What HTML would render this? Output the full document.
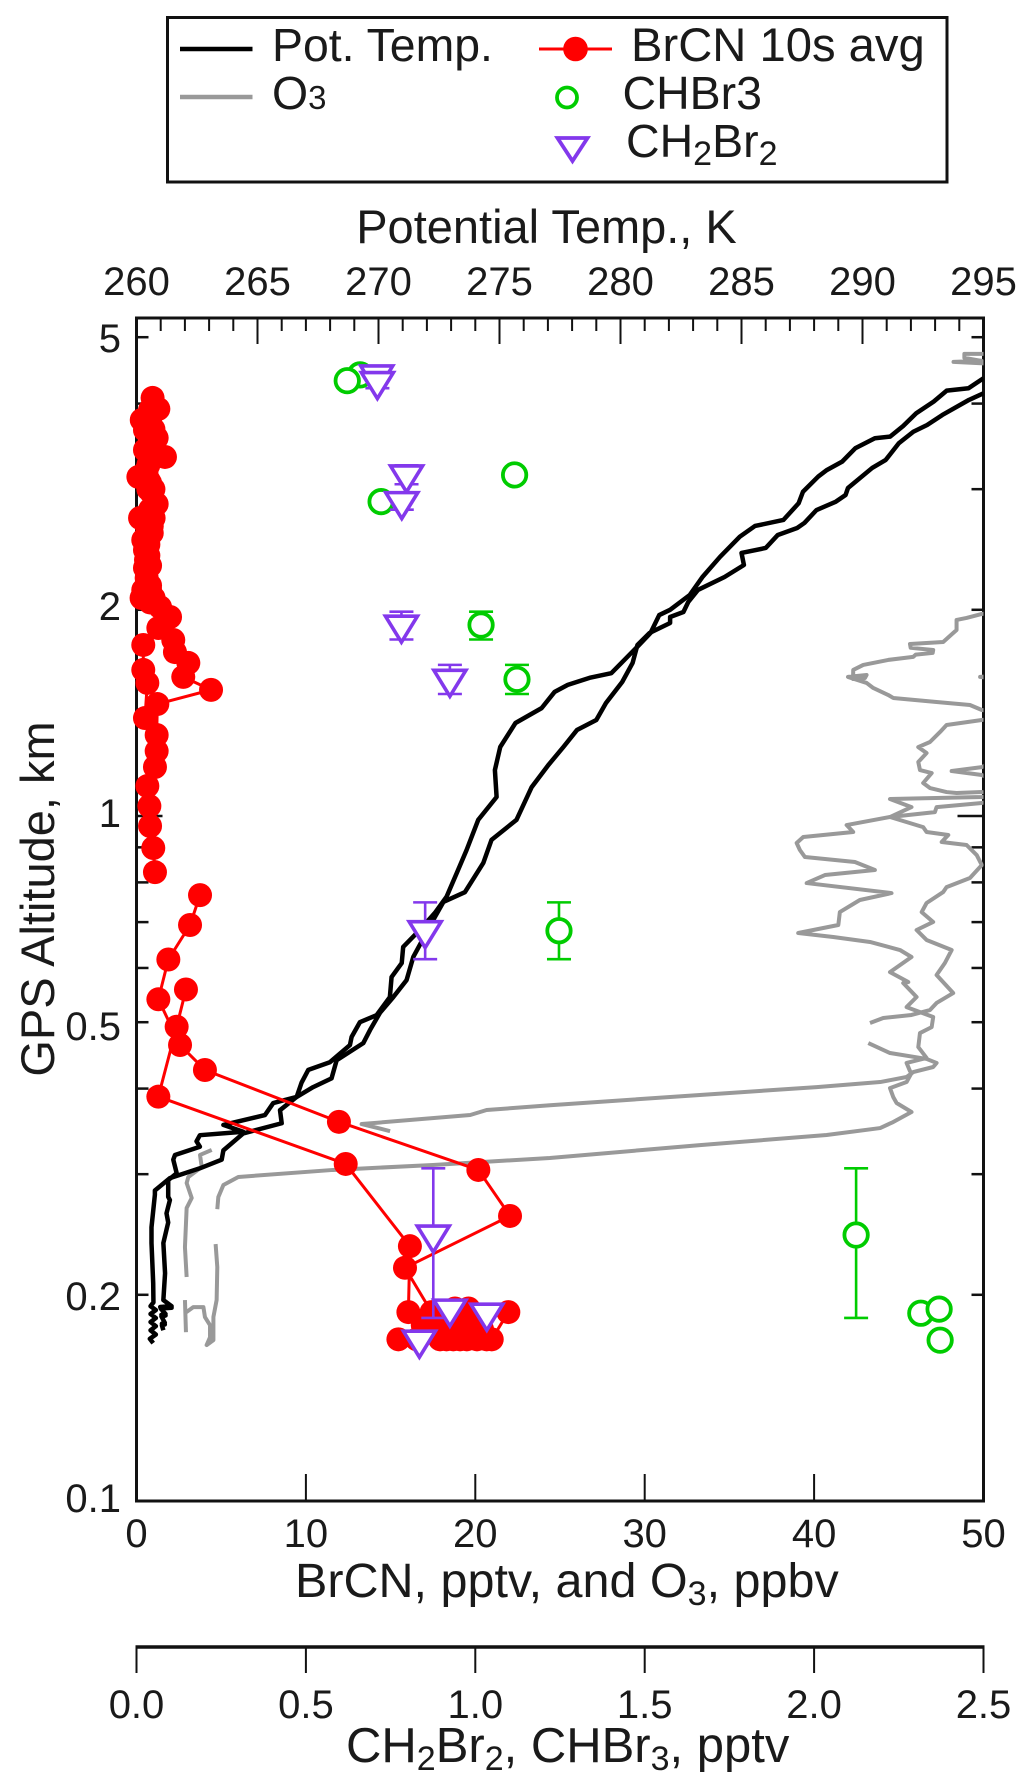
<!DOCTYPE html>
<html lang="en">
<head>
<meta charset="utf-8">
<title>BrCN altitude profile</title>
<style>
html,body{margin:0;padding:0;background:#fff;}
svg{display:block;}
text{font-family:"Liberation Sans",sans-serif;fill:#1a1a1a;}
</style>
</head>
<body>
<svg id="chart" width="1033" height="1790" viewBox="0 0 1033 1790" xmlns="http://www.w3.org/2000/svg">
  <defs>
    <clipPath id="plot-clip"><rect x="136.5" y="318" width="847" height="1183"></rect></clipPath>
  </defs>
  <rect x="0" y="0" width="1033" height="1790" fill="#fff"></rect>

  <g>
    <rect x="167.5" y="17.5" width="779.5" height="164.5" fill="#fff" stroke="#111" stroke-width="3"></rect>
    <line x1="180" y1="49" x2="252.5" y2="49" stroke="#000" stroke-width="4.5"></line>
    <text x="272" y="61" font-size="46.4">Pot. Temp.</text>
    <line x1="180" y1="97" x2="252.5" y2="97" stroke="#999" stroke-width="4.5"></line>
    <text x="272" y="109" font-size="46.4">O<tspan font-size="33">3</tspan></text>
    <line x1="539" y1="49" x2="612" y2="49" stroke="#f00" stroke-width="3"></line>
    <circle cx="575.5" cy="49" r="12.3" fill="#f00"></circle>
    <text x="631" y="61" font-size="47.2">BrCN 10s avg</text>
    <circle cx="567" cy="97.5" r="10" fill="#fff" stroke="#0c0" stroke-width="3.8"></circle>
    <text x="622.5" y="109" font-size="46.5">CHBr3</text>
    <polygon points="557.5,138 587.5,138 572.5,161" fill="#fff" stroke="#8338ec" stroke-width="3.8"></polygon>
    <text x="626" y="157" font-size="46.5">CH<tspan font-size="34" dy="8">2</tspan><tspan dy="-8">Br</tspan><tspan font-size="34" dy="8">2</tspan></text>
  </g>

  <text x="546.5" y="243" font-size="47" text-anchor="middle">Potential Temp., K</text>
  <text transform="translate(54,899) rotate(-90)" font-size="47" text-anchor="middle">GPS Altitude, km</text>
  <text x="295" y="1597" font-size="48.5">BrCN, pptv, and O<tspan font-size="34" dy="8">3</tspan><tspan dy="-8">, ppbv</tspan></text>
  <text x="346" y="1762" font-size="49">CH<tspan font-size="34" dy="8">2</tspan><tspan dy="-8">Br</tspan><tspan font-size="34" dy="8">2</tspan><tspan dy="-8">, CHBr</tspan><tspan font-size="34" dy="8">3</tspan><tspan dy="-8">, pptv</tspan></text>

  <g id="axes"></g>
  <g id="series"></g>
</svg>

<script>
// ---- Tick values and labels ----
const thetaTickLabels = ['260', '265', '270', '275', '280', '285', '290', '295'];
const thetaMinorTicks = [261,262,263,264,266,267,268,269,271,272,273,274,276,277,278,279,281,282,283,284,286,287,288,289,291,292,293,294];
const brcnTickLabels = ['0', '10', '20', '30', '40', '50'];
const bromoTickLabels = ['0.0', '0.5', '1.0', '1.5', '2.0', '2.5'];
const altLabelled = ['5', '2', '1', '0.5', '0.2', '0.1'];
const altMinorTicks = [5, 4, 3, 2, 0.9, 0.8, 0.7, 0.6, 0.5, 0.4, 0.3, 0.2];
const altLongTicks = [1];

// ---- Potential temperature, K (two profiles) ----
const altThetaA = [4.356,4.212,4.178,4.027,3.872,3.71,3.58,3.56,3.442,3.291,3.2,3.13,2.974,2.861,2.705,2.651,2.557,2.391,2.236,2.102,2.0,1.965,1.85,1.767,1.69,1.616,1.591,1.554,1.518,1.437,1.367,1.261,1.167,1.066,.987,.892,.825,.762,.722,.682,.644,.610,.582,.544,.512,.500,.476,.463,.437,.426,.408,.389,.381,.366,.354,.346,.342,.335,.329,.320,.315,.301,.294,.278,.275,.263,.255,.238,.215,.1965,.1925,.192,.1915,.191,.1875,.187,.1865,.186,.182,.1815,.181,.1805,.1775];
const thetaA = [295.0,294.38,293.48,292.94,292.22,291.68,291.14,290.51,289.7,289.16,288.53,288.17,287.54,287.36,286.73,285.56,284.93,284.12,283.4,282.86,282.05,281.6,281.24,280.7,280.16,279.62,278.72,277.82,277.28,276.74,275.66,275.03,274.81,274.88,274.12,273.64,273.23,272.81,272.33,271.71,271.02,270.96,270.54,270.47,269.92,269.23,268.89,268.82,267.99,267.1,266.82,266.62,265.65,265.31,263.59,264.41,262.62,262.48,262.62,261.59,261.52,261.66,261.31,261.31,261.38,261.24,261.31,261.11,261.18,261.11,261.45,260.98,261.45,261.0,261.2,261.03,261.2,261.03,261.17,261.05,261.17,261.05,261.11];
const altThetaB = [4.141,4.050,3.850,3.722,3.639,3.501,3.310,3.222,3.012,2.942,2.877,2.797,2.678,2.633,2.572,2.462,2.421,2.325,2.233,2.138,2.053,1.985,1.952,1.913,1.850,1.777,1.673,1.569,1.462,1.381,1.335,1.261,1.187,1.102,.987,.923,.854,.774,.749,.712,.623,.576,.544,.516,.487,.466,.440,.414,.402,.389,.372,.356,.344,.325,.315,.306,.296,.284,.280,.251,.238,.208,.195,.1925,.19,.1875,.185,.1825,.18,.1775,.175,.1725,.170];
const thetaB = [295,294.4,293.3,292.67,292.1,291.5,290.96,290.4,289.4,289.3,288.9,288.1,287.6,287.3,286.5,286.0,285.0,285.1,284.3,283.2,282.8,282.6,282.05,282.05,281.2,280.7,280.5,280.07,279.4,279.0,278.2,277.64,277.02,276.33,275.7,274.67,274.33,273.57,272.68,272.33,271.44,271.16,270.61,270.06,269.65,269.37,268.27,268.06,267.3,266.62,265.93,266.0,264.41,263.59,263.52,262.62,261.38,260.76,260.76,260.62,260.62,260.69,260.7,260.58,260.8,260.58,260.8,260.58,260.8,260.58,260.8,260.55,260.69];

// ---- O3, ppbv (two profiles; null = data gap; values past 50 leave the axis) ----
const altO3A = [.3255,.320,.3073,.2972,.2912,.2769,.2677,.2347,.2123,null,.1965,.1764,null,.188,.1919,.1919,.1856,.1806,.1734,.1689,.1717,.1856,.1965,.2195,.2372,null,.2667,.2778,.2893,.2972,.3043,.3094,.3168,.3308,.3422,.3503,.3575,.3697,.3811,.3889,.4007,.4089,.4214,.4243,.436,.4434,.4599,.4821,.4918,.5088,.5261,.5442,.5704,.5723,.5917,.6225,.6373,.6548,.6659,.6748,.6932,.724,.754,.7718,.7982,.82,.834,.8567,.8712,.892,.9133,.9319,.9475,.97,.9966,1.0132,1.0304,1.0447,1.08,1.1477,1.1632,1.1786,1.25,1.58,1.596,1.612,4.555,4.602,4.617,4.664,4.727,4.727,4.758];
const o3A = [4.44,3.75,3.85,3.06,2.96,3.26,2.96,2.86,2.96,null,2.86,2.92,null,2.86,3.35,3.95,4.04,4.34,4.34,4.14,4.54,4.54,4.73,4.77,4.67,null,4.77,4.83,5.13,6.01,11.6,17.5,24.4,33.26,40.74,43.9,44.67,45.75,44.87,44.67,44.48,45.46,45.75,45.66,45.46,46.64,46.15,46.25,46.94,47.03,45.46,46.05,45.26,45.56,44.48,45.75,45.07,43.3,41.13,39.06,41.43,41.52,42.7,44.57,39.56,40.64,43.59,42.41,39.46,39.16,38.97,39.36,42.31,41.92,44.48,47.13,47.23,49.9,52,49.9,48.12,49.9,52,52,49.8,52,52,48.23,49.9,48.87,48.87,49.9,52];
const altO3B = [.3467,.3551,.366,.3722,.3782,.3915,.402,.4089,.4159,.4228,.4301,.436,.4419,.4508,.4662,null,.4986,.5071,.5123,.5209,.5334,.5515,.5859,.6101,.6373,.6592,.6817,.7003,.724,.7464,.7744,.7874,.8118,.848,.877,.9071,.9164,.9381,.9475,.9633,.9966,1.0304,1.0589,1.066,1.073,1.0838,1.0802,1.0838,1.0986,1.1173,1.1553,1.167,1.199,1.2356,1.2607,1.2824,1.3259,1.3578,1.381,1.4042,1.428,1.4522,1.467,1.487,1.5018,1.5378,1.564,1.596,1.6066,1.59,1.585,1.634,1.6616,1.69,1.707,1.72,1.73,1.747,1.76,1.783,1.795,1.869,1.933,1.946,1.972,2.0];
const o3B = [14.97,13.29,19.7,20.67,24.41,33.26,40.15,43.9,45.46,45.85,47.03,47.23,46.64,44.48,43.2,null,43.3,44.08,45.75,46.84,47.23,48.21,47.23,47.72,48.12,46.64,46.05,47.03,46.35,46.64,47.62,47.82,49.2,49.9,49.6,49.0,47.53,47.92,46.64,46.44,44.48,45.75,44.48,49.9,52,49.9,48.41,47.82,46.84,46.44,46.94,46.25,46.15,46.64,46.15,46.84,47.43,47.82,49.9,52.6,49.9,49.2,47.23,44.67,44.38,43.49,43.1,42.0,43.1,43.0,42.3,42.31,42.9,44.38,45.85,46.0,47.0,47.03,45.7,45.66,47.62,48.41,48.41,49.0,49.9,52];

// ---- BrCN 10 s average, pptv (null = break in the connecting line) ----
const altBrcn = [.1722,.1722,.1722,.1722,.1722,.1722,.1722,.1887,.191,.191,.1806,.1806,.1806,.1887,.219,.2607,.3043,.3577,.4258,.4631,.54,.6173,.6932,.7665,null,.1887,.2355,.3105,.3893,.4924,.5582,null,4.077,3.929,3.786,3.66,3.564,3.422,3.343,3.254,3.126,3.064,2.961,2.854,2.723,2.723,2.589,2.529,2.445,2.365,2.302,2.226,2.138,2.081,null,1.777,1.634,1.564,1.39,null,2.081,2.018,1.952,1.881,1.807,1.735,1.673,1.596,1.528,1.457,1.313,1.244,1.179,1.106,1.034,.967,.898,.828,null,.1806,.1722,.1806,.1722,.1806,.1722,.1806,.1887,.1887,.1806,.185,.185,.185,.185,.178,.178,.178,.178,.178,null,3.916,3.786,3.67,3.48,3.42,3.2,3.095,3.0,3.0,2.8,2.65,2.65,2.49,2.4,2.32,2.17,2.138,2.05];
const brcn = [15.46,16.54,17.92,18.7,19.5,20.67,20.97,21.95,19.6,18.8,19.5,18.7,17.3,17.42,15.85,22.05,20.18,11.95,4.04,2.57,1.29,1.88,3.16,3.75,null,16.05,16.14,12.35,1.29,2.37,2.92,null,.95,1.29,.31,.50,1.19,.50,1.68,.70,.11,.80,.90,1.19,.21,1.01,.90,.40,.50,.56,.50,.60,.40,.30,null,.40,.40,.64,.50,null,1.01,1.39,1.98,1.29,2.17,2.27,3.06,2.76,4.4,1.23,1.19,1.19,1.09,.64,.76,.80,.99,1.09,null,18.0,18.3,19.1,19.1,19.9,20.1,20.3,18.1,19.2,16.9,17.8,18.6,19.4,20.0,17.4,18.2,19.0,19.8,20.4,null,.8,.8,1.0,.9,.9,.6,.7,.7,1.0,.8,.6,.9,.7,.7,.8,.8,.8,.8];

// ---- Whole-air samples, pptv, with altitude error bars ----
const altChbr3 = [4.405,4.32,2.877,3.147,1.90,1.583,.680,.2445,.188,.1906,.1717];
const chbr3 = [.660,.622,.722,1.116,1.017,1.123,1.247,2.124,2.315,2.369,2.372];
const chbr3AltLow = [null,null,null,null,1.81,1.507,.618,.185,null,null,null];
const chbr3AltHigh = [null,null,null,null,1.987,1.662,.748,.306,null,null,null];
const altCh2br2 = [4.405,4.307,3.147,2.877,1.899,1.583,.680,.2445,.1906,.188,.1717];
const ch2br2 = [.709,.711,.797,.783,.782,.925,.852,.876,.925,1.034,.835];
const ch2br2AltLow = [null,4.212,3.05,2.80,1.81,1.507,.618,.185,null,null,null];
const ch2br2AltHigh = [null,4.40,3.25,2.95,1.987,1.662,.748,.306,null,null,null];

// ---- Axis functions ----
const plotLeft = 136.5, plotRight = 983.5, plotTop = 318, plotBottom = 1501, axis2Y = 1647;
const xBrcn = v => plotLeft + (plotRight - plotLeft) * v / 50;
const xBromo = v => plotLeft + (plotRight - plotLeft) * v / 2.5;
const xTheta = v => plotLeft + (plotRight - plotLeft) * (v - 260) / 35;
const yAlt = a => plotBottom - 685 * (Math.log10(a) + 1);
const altLabelBaselineNudge = [15, 10, 11, 18, 15, 11];

const NS = 'http://www.w3.org/2000/svg';
const axes = document.getElementById('axes');
const series = document.getElementById('series');
function mk(tag, attrs, parent) {
  const el = document.createElementNS(NS, tag);
  for (const k in attrs) el.setAttribute(k, attrs[k]);
  parent.appendChild(el);
  return el;
}
function tickLine(x1, y1, x2, y2, w) {
  return mk('line', {x1: x1, y1: y1, x2: x2, y2: y2, stroke: '#111', 'stroke-width': w}, axes);
}
function tickText(str, x, y, anchor) {
  const t = mk('text', {x: x, y: y, 'font-size': 40, 'text-anchor': anchor}, axes);
  t.textContent = str;
  return t;
}
function pathFrom(alts, vals, xf) {
  let d = '', pen = false;
  for (let i = 0; i < alts.length; i++) {
    if (alts[i] === null || vals[i] === null) { pen = false; continue; }
    d += (pen ? 'L' : 'M') + xf(vals[i]).toFixed(2) + ' ' + yAlt(alts[i]).toFixed(2);
    pen = true;
  }
  return d;
}

// Frame and secondary axis line
const frame = mk('rect', {x: plotLeft, y: plotTop, width: plotRight - plotLeft, height: plotBottom - plotTop, fill: 'none', stroke: '#111', 'stroke-width': 3}, axes);


const axis2 = tickLine(plotLeft - 1, axis2Y, plotRight + 1, axis2Y, 3.5);



// Top axis: potential temperature
thetaTickLabels.forEach(lbl => {
  const v = Number(lbl);
  const tk = tickLine(xTheta(v), plotTop, xTheta(v), plotTop + 26, 2);
  
  
  const t = tickText(lbl, xTheta(v), 295, 'middle');
  
  
});
thetaMinorTicks.forEach(v => {
  const tk = tickLine(xTheta(v), plotTop, xTheta(v), plotTop + 13, 2);
  
  
});

// Bottom axis: BrCN / O3
brcnTickLabels.forEach(lbl => {
  const v = Number(lbl);
  const tk = tickLine(xBrcn(v), plotBottom, xBrcn(v), plotBottom - 27, 2);
  
  
  const t = tickText(lbl, xBrcn(v), 1547, 'middle');
  
  
});

// Second bottom axis: bromocarbons
bromoTickLabels.forEach(lbl => {
  const v = Number(lbl);
  const tk = tickLine(xBromo(v), axis2Y, xBromo(v), axis2Y + 26, 2);
  
  
  const t = tickText(lbl, xBromo(v), 1718, 'middle');
  
  
});

// Altitude axis (log), ticks on both sides
altMinorTicks.forEach(a => {
  const l = tickLine(plotLeft, yAlt(a), plotLeft + 12, yAlt(a), 2.5);
  
  
  const r = tickLine(plotRight, yAlt(a), plotRight - 12, yAlt(a), 2.5);
  
  
});
altLongTicks.forEach(a => {
  const l = tickLine(plotLeft, yAlt(a), plotLeft + 26, yAlt(a), 2.5);
  
  
  const r = tickLine(plotRight, yAlt(a), plotRight - 26, yAlt(a), 2.5);
  
  
});
altLabelled.forEach((lbl, i) => {
  const t = tickText(lbl, 121, yAlt(Number(lbl)) + altLabelBaselineNudge[i], 'end');
  
  
});

// Continuous lines, clipped to the plot area
const clipped = mk('g', {'clip-path': 'url(#plot-clip)'}, series);


const lineStyle = {fill: 'none', 'stroke-linejoin': 'round', 'stroke-linecap': 'butt'};

const o3LineA = mk('path', Object.assign({d: pathFrom(altO3A, o3A, xBrcn), stroke: '#999', 'stroke-width': 4}, lineStyle), clipped);


const o3LineB = mk('path', Object.assign({d: pathFrom(altO3B, o3B, xBrcn), stroke: '#999', 'stroke-width': 4}, lineStyle), clipped);


const thetaLineA = mk('path', Object.assign({d: pathFrom(altThetaA, thetaA, xTheta), stroke: '#000', 'stroke-width': 4.5}, lineStyle), clipped);


const thetaLineB = mk('path', Object.assign({d: pathFrom(altThetaB, thetaB, xTheta), stroke: '#000', 'stroke-width': 4.5}, lineStyle), clipped);



// BrCN line and markers
const brcnLine = mk('path', Object.assign({d: pathFrom(altBrcn, brcn, xBrcn), stroke: '#f00', 'stroke-width': 3}, lineStyle), series);


brcn.forEach((v, i) => {
  if (v === null) return;
  const c = mk('circle', {cx: xBrcn(v), cy: yAlt(altBrcn[i]), r: 12, fill: '#f00'}, series);
  
  
});

// Error bars and sample markers
function errorBar(x, low, high, color) {
  const g = mk('g', {stroke: color, 'stroke-width': 2.6, fill: 'none'}, series);
  mk('line', {x1: x, y1: yAlt(low), x2: x, y2: yAlt(high)}, g);
  mk('line', {x1: x - 12, y1: yAlt(low), x2: x + 12, y2: yAlt(low)}, g);
  mk('line', {x1: x - 12, y1: yAlt(high), x2: x + 12, y2: yAlt(high)}, g);
  return g;
}
chbr3.forEach((v, i) => {
  const x = xBromo(v);
  if (chbr3AltLow[i] !== null) {
    const e = errorBar(x, chbr3AltLow[i], chbr3AltHigh[i], '#0c0');
    
    
  }
  const c = mk('circle', {cx: x, cy: yAlt(altChbr3[i]), r: 11.7, fill: '#fff', stroke: '#0c0', 'stroke-width': 3.8}, series);
  
  
});
ch2br2.forEach((v, i) => {
  const x = xBromo(v);
  const y = yAlt(altCh2br2[i]);
  if (ch2br2AltLow[i] !== null) {
    const e = errorBar(x, ch2br2AltLow[i], ch2br2AltHigh[i], '#8338ec');
    
    
  }
  const pts = (x - 16) + ',' + (y - 9) + ' ' + (x + 16) + ',' + (y - 9) + ' ' + x + ',' + (y + 17);
  const m = mk('polygon', {points: pts, fill: '#fff', stroke: '#8338ec', 'stroke-width': 3.6}, series);
  
  
});
</script>
</body>
</html>
